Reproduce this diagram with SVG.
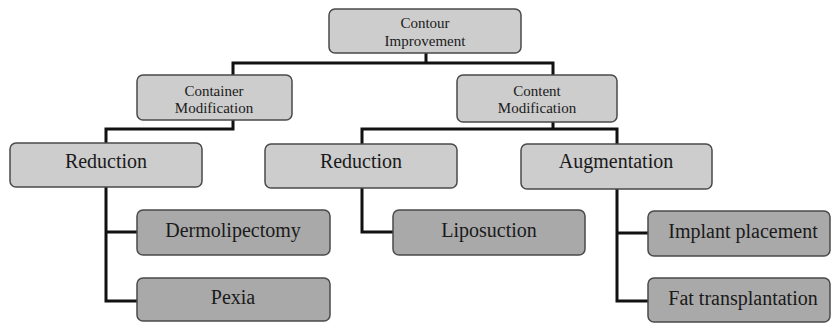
<svg xmlns="http://www.w3.org/2000/svg" width="832" height="323" viewBox="0 0 832 323">
<style>
.lt{fill:#cdcdcd;stroke:#4a4a4a;stroke-width:1.5}
.dk{fill:#a9a9a9;stroke:#4a4a4a;stroke-width:1.5}
.c{fill:none;stroke:#111;stroke-width:3;stroke-linejoin:miter}
text{font-family:"Liberation Serif","Times New Roman",serif;fill:#1a1a1a;text-anchor:middle}
.s{font-size:15px}
.b{font-size:20px}
</style>
<rect width="832" height="323" fill="#ffffff"/>
<g id="connectors">
<path class="c" d="M426 53V63M233 75V63H553V75"/>
<path class="c" d="M233 120V129H106V143M106 187V301H137M106 232H137"/>
<path class="c" d="M553 122V129H362V144M553 129H617V144"/>
<path class="c" d="M362 188V232H393"/>
<path class="c" d="M617 189V301H648M617 233H648"/>
</g>
<g id="n-contour"><rect class="lt" x="329" y="9" width="192" height="44" rx="6"/><text class="s" x="425" y="28">Contour</text><text class="s" x="425" y="46">Improvement</text></g>
<g id="n-container"><rect class="lt" x="137" y="75" width="155" height="45" rx="6"/><text class="s" x="214" y="96">Container</text><text class="s" x="214" y="113">Modification</text></g>
<g id="n-content"><rect class="lt" x="457" y="75" width="160" height="47" rx="6"/><text class="s" x="537" y="96">Content</text><text class="s" x="537" y="113">Modification</text></g>
<g id="n-reduction1"><rect class="lt" x="10" y="143" width="192" height="44" rx="6"/><text class="b" x="106" y="168">Reduction</text></g>
<g id="n-reduction2"><rect class="lt" x="265" y="144" width="192" height="44" rx="6"/><text class="b" x="361" y="168">Reduction</text></g>
<g id="n-augmentation"><rect class="lt" x="521" y="144" width="191" height="45" rx="6"/><text class="b" x="616" y="168">Augmentation</text></g>
<g id="n-dermolipectomy"><rect class="dk" x="137" y="210" width="193" height="45" rx="6"/><text class="b" x="233" y="237">Dermolipectomy</text></g>
<g id="n-pexia"><rect class="dk" x="137" y="278" width="193" height="43" rx="6"/><text class="b" x="233" y="304">Pexia</text></g>
<g id="n-liposuction"><rect class="dk" x="393" y="210" width="192" height="45" rx="6"/><text class="b" x="489" y="237">Liposuction</text></g>
<g id="n-implant"><rect class="dk" x="648" y="211" width="182" height="45" rx="6"/><text class="b" x="743" y="238">Implant placement</text></g>
<g id="n-fat"><rect class="dk" x="648" y="278" width="182" height="44" rx="6"/><text class="b" x="743" y="305">Fat transplantation</text></g>
</svg>
